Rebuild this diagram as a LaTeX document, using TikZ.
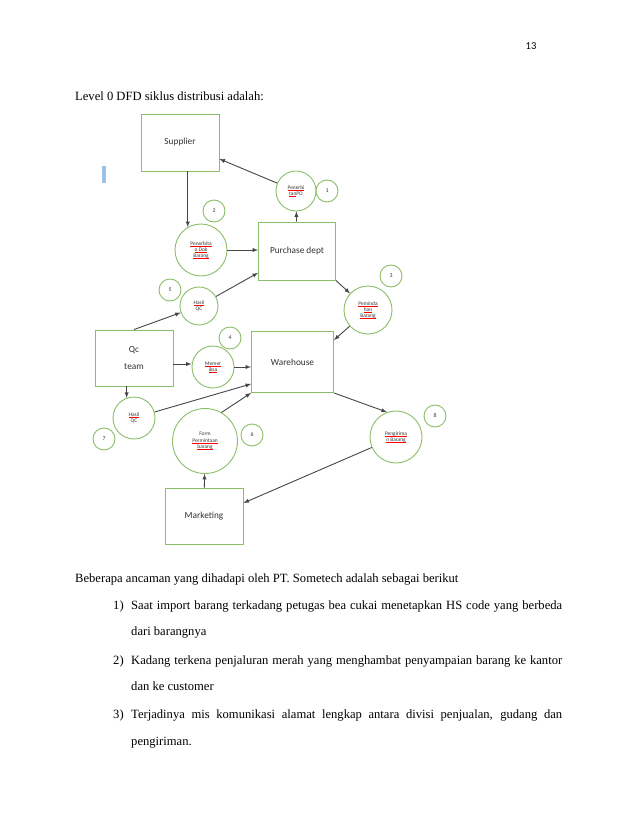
\documentclass[tikz,border=0pt]{standalone}
\usepackage{fontspec}
\setmainfont{Liberation Serif}
\newfontfamily\calibri{Carlito}
\definecolor{dfdgreen}{RGB}{140,190,105}
\definecolor{panah}{RGB}{70,70,70}
\definecolor{biru}{RGB}{155,194,230}
% garis merah di bawah kata (tanda ejaan)
\newcommand\salah[1]{\setbox0\hbox{#1}\rlap{\textcolor{red}{\rule[-1.2pt]{\wd0}{0.45pt}}}\box0}
\tikzset{
  entitas/.style={draw=dfdgreen, line width=0.9pt, font=\calibri\fontsize{9.3}{11}\selectfont, text=black!80, align=center},
  proses/.style={circle, draw=dfdgreen, line width=0.9pt, inner sep=0pt, align=center, text=black!80, font=\calibri\fontsize{5.4}{6.2}\selectfont},
  nomor/.style={circle, draw=dfdgreen, line width=0.9pt, minimum size=22pt, inner sep=0pt, text=black!80, font=\calibri\fontsize{5.8}{6.5}\selectfont},
  alur/.style={->, draw=panah, line width=0.9pt},
  teks/.style={anchor=base west, inner sep=0pt, font=\fontsize{12.6}{15}\selectfont}
}
\begin{document}
\begin{tikzpicture}[>=latex, x=1pt, y=-1pt]
    \useasboundingbox[fill=white] (0,0) rectangle (638,826);
    % Nomor halaman dan judul
    \node[anchor=base, inner sep=0pt, font=\calibri\fontsize{10.5}{12}\selectfont] (hal) at (531,50) {13};
    \node[teks] (judul) at (75,101) {Level 0 DFD siklus distribusi adalah:};
    \fill[biru] (102,166) rectangle (106,183);

    % Entitas
    \node[entitas, minimum width=78pt, minimum height=57pt] (supplier) at (180,142.5) {Supplier};
    \node[entitas, minimum width=77pt, minimum height=58pt] (purchase) at (297,251) {Purchase dept};
    \node[entitas, minimum width=78pt, minimum height=56pt] (qcteam) at (134,358) {Qc\\[6pt]team};
    \node[entitas, minimum width=82pt, minimum height=61pt] (warehouse) at (292.5,362) {Warehouse};
    \node[entitas, minimum width=78pt, minimum height=56pt] (marketing) at (204,516) {Marketing};

    % Proses
    \node[proses, minimum size=40pt] (penerbitanpo) at (296,191) {\salah{Penerbi}\\\salah{tan} PO};
    \node[proses, minimum size=52pt] (penerbitandok) at (201,250) {\salah{Penerbita}\\\salah{n.Dok}\\\salah{Barang}};
    \node[proses, minimum size=48pt] (pemindahan) at (368,310) {\salah{Peminda}\\\salah{han}\\\salah{Barang}};
    \node[proses, minimum size=38pt] (hasilqcatas) at (199,306) {\salah{Hasil}\\QC};
    \node[proses, minimum size=42pt] (memeriksa) at (213,367) {\salah{Memer}\\\salah{iksa}};
    \node[proses, minimum size=42pt] (hasilqcbawah) at (134,418) {\salah{Hasil}\\QC};
    \node[proses, minimum size=65pt] (form) at (205,441) {Form\\\salah{Permintaan}\\\salah{barang}};
    \node[proses, minimum size=52pt] (pengiriman) at (396,437) {\salah{Pengirima}\\\salah{n Barang}};

    % Nomor proses
    \node[nomor] (n1) at (327,191) {1};
    \node[nomor] (n2) at (214,211) {2};
    \node[nomor] (n3) at (391,276) {3};
    \node[nomor] (n4) at (230,338) {4};
    \node[nomor] (n5) at (170,290) {5};
    \node[nomor] (n6) at (252,435) {6};
    \node[nomor] (n7) at (104,439) {7};
    \node[nomor] (n8) at (435,416) {8};

    % Aliran data
    \draw[alur] (penerbitanpo) -- (supplier);
    \draw[alur] (purchase) -- (penerbitanpo);
    \draw[alur] (supplier.south -| penerbitandok.120) -- (penerbitandok.120);
    \draw[alur] (penerbitandok.east) -- (penerbitandok.east -| purchase.west);
    \draw[alur] (hasilqcatas) -- (purchase);
    \draw[alur] (qcteam.north) -- (hasilqcatas);
    \draw[alur] (purchase.south east) -- (pemindahan);
    \draw[alur] (pemindahan) -- ([yshift=-9pt]warehouse.north east);
    \draw[alur] ([yshift=3pt]memeriksa.west -| qcteam.east) -- ([yshift=3pt]memeriksa.west);
    \draw[alur] (memeriksa.east) -- (memeriksa.east -| warehouse.west);
    \draw[alur] (qcteam.south -| hasilqcbawah.110) -- (hasilqcbawah.110);
    \draw[alur] (hasilqcbawah) -- ([yshift=9pt]warehouse.south west);
    \draw[alur] (form.60) -- (warehouse.south west);
    \draw[alur] (marketing) -- (form);
    \draw[alur] (warehouse.south east) -- (pengiriman.110);
    \draw[alur] (pengiriman) -- ([yshift=13pt]marketing.east);

    % Teks di bawah diagram
    \node[teks] (ancaman) at (75,582) {Beberapa ancaman yang dihadapi oleh PT. Sometech adalah sebagai berikut};
    \node[teks] (no1) at (113,609) {1)};
    \node[teks] (b1a) at (131,609) {\makebox[431pt][s]{Saat import barang terkadang petugas bea cukai menetapkan HS code yang berbeda}};
    \node[teks] (b1b) at (131,635) {dari barangnya};
    \node[teks] (no2) at (113,664) {2)};
    \node[teks] (b2a) at (131,664) {\makebox[431pt][s]{Kadang terkena penjaluran merah yang menghambat penyampaian barang ke kantor}};
    \node[teks] (b2b) at (131,690) {dan ke customer};
    \node[teks] (no3) at (113,718) {3)};
    \node[teks] (b3a) at (131,718) {\makebox[431pt][s]{Terjadinya mis komunikasi alamat lengkap antara divisi penjualan, gudang dan}};
    \node[teks] (b3b) at (131,745) {pengiriman.};
\end{tikzpicture}
\end{document}
